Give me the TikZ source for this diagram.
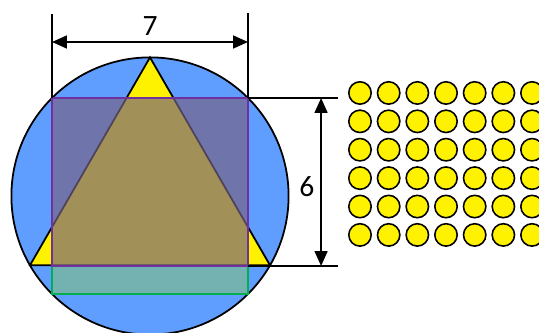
\documentclass[tikz,border=0pt]{standalone}
\usepackage{fontspec}
\setmainfont{Carlito}
\usetikzlibrary{arrows.meta, positioning, calc}
\definecolor{discblue}{RGB}{95,158,255}
\definecolor{rectpurple}{RGB}{119,99,132}
\definecolor{edgepurple}{RGB}{112,48,160}
\definecolor{rectgreen}{RGB}{135,198,101}
\definecolor{edgegreen}{RGB}{0,176,80}

\begin{document}
\begin{tikzpicture}[
        outline/.style={draw, line width=1.8pt},
        dimline/.style={line width=1.8pt},
        arrow/.style={{Triangle[length=15pt,width=13pt]}-{Triangle[length=15pt,width=13pt]}, line width=1.8pt},
        label/.style={font=\fontsize{30}{33}\selectfont, inner sep=2pt},
        dot/.style={circle, draw, line width=1.6pt, fill=yellow, minimum size=0.8cm, inner sep=0pt},
    ]
        \clip (-5.357,-4.893) rectangle (13.893,7.0);
        \fill[white] (-5.357,-4.893) rectangle (13.893,7.0);

        \coordinate (O) at (0,0);
        \draw[outline, fill=discblue] (O) circle (4.95);
        \draw[outline, fill=yellow] (90:4.95) -- (210:4.95) -- (330:4.95) -- cycle;
        \draw[line width=1.5pt, draw=edgegreen, fill=rectgreen, fill opacity=0.5] (-3.5,-3.5) rectangle (3.5,-2.5);
        \draw[line width=1.5pt, draw=edgepurple, fill=rectpurple, fill opacity=0.68] (-3.5,-2.5) rectangle (3.5,3.5);

        \coordinate (rtl) at (-3.5,3.5);
        \coordinate (rtr) at (3.5,3.5);
        \coordinate (rbr) at (3.5,-2.5);
        \coordinate (extl) at (-3.5,6.5);
        \coordinate (extr) at (3.5,6.55);
        \coordinate (exrt) at (6.71,3.5);
        \coordinate (exrb) at (6.71,-2.5);
        \coordinate (al) at (-3.5,5.5);
        \coordinate (ar) at (3.5,5.5);
        \coordinate (at) at (6.11,3.5);
        \coordinate (ab) at (6.11,-2.5);

        \draw[dimline] (rtl) -- (extl);
        \draw[dimline] (rtr) -- (extr);
        \draw[dimline] (rtr) -- (exrt);
        \draw[dimline] (rbr) -- (exrb);
        \draw[arrow] (al) -- node[label, above=4pt] {7} (ar);
        \draw[arrow] (at) -- node[label, left=4pt, yshift=-5pt] {6} (ab);

        \foreach \col in {0,...,6}
            \foreach \row in {0,...,5}
                \node[dot] (dot-\col-\row) at (7.5+1.024*\col, 3.68-1.014*\row) {};
    \end{tikzpicture}
\end{document}
